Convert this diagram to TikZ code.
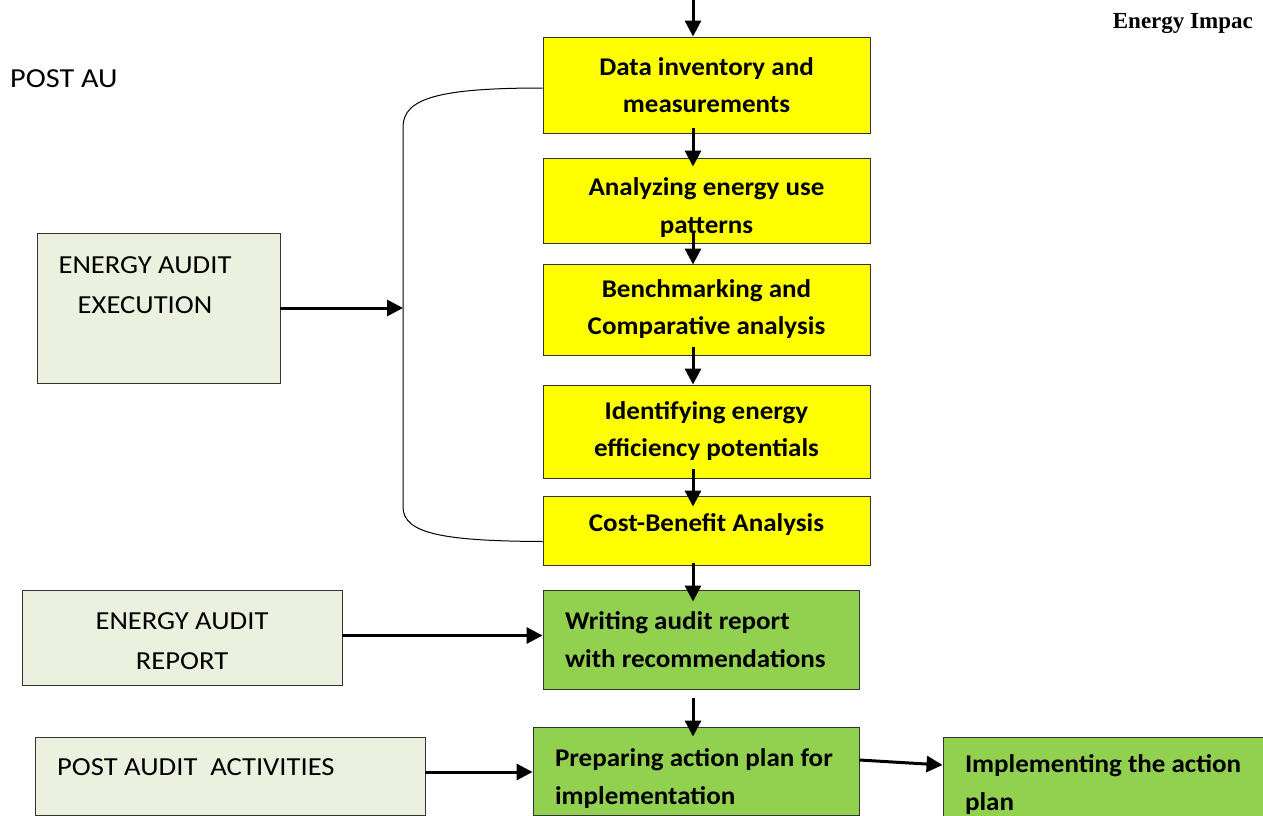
\documentclass[tikz,border=0pt]{standalone}
\usepackage{fontspec}
\setmainfont{Carlito}[FakeStretch=1.1]
\newfontfamily\stepfont{Carlito}[FakeStretch=1.06]
\newfontfamily\timesbold{Liberation Serif}[BoldFont=* Bold]
\usetikzlibrary{arrows.meta,calc}
\definecolor{stepyellow}{HTML}{FFFF00}
\definecolor{stepgreen}{HTML}{92D050}
\definecolor{phasefill}{HTML}{EBF1DE}
\tikzset{
  box/.style={draw=black!80, line width=0.9pt, inner sep=0pt, rectangle},
  ybox/.style={box, fill=stepyellow, align=center,
    font=\fontsize{25.5}{37}\stepfont\bfseries},
  gbox/.style={box, fill=stepgreen, align=flush left, inner xsep=22pt,
    font=\fontsize{25.5}{38}\stepfont\bfseries},
  phase/.style={box, fill=phasefill},
  phasetext/.style={inner sep=0pt, align=center, font=\fontsize{26}{40}\selectfont},
  arr/.style={line width=3pt, -{Triangle[length=16pt,width=16pt]}},
  brace/.style={line width=1pt, black}
}
\begin{document}
\begin{tikzpicture}[x=1pt,y=-1pt]
\useasboundingbox (0,0) rectangle (1263,816);

% header texts
\node[anchor=base west, inner sep=0pt, font=\fontsize{27.5}{30}\selectfont] (title) at (10,87) {POST AU};
\node[anchor=base east, inner sep=0pt, font=\fontsize{23}{26}\timesbold\bfseries] (running) at (1253,29) {Energy Impac};

% main sequence of audit steps
\node[ybox, minimum width=327pt, minimum height=96pt] (data)  at (706.5,85)   {Data inventory and\\measurements};
\node[ybox, minimum width=327pt, minimum height=85pt] (anal)  at (706.5,200.5) {\rule{0pt}{32pt}Analyzing energy use\\[1pt]patterns};
\node[ybox, minimum width=327pt, minimum height=91pt] (bench) at (706.5,309.5) {Benchmarking and\\Comparative analysis};
\node[ybox, minimum width=327pt, minimum height=93pt] (ident) at (706.5,431.5) {Identifying energy\\efficiency potentials};
\node[ybox, minimum width=327pt, minimum height=69pt, text depth=16pt] (cost) at (706.5,530.5) {Cost-Benefit Analysis};

\node[gbox, minimum width=316pt, minimum height=99pt, text width=272pt] (writing) at (701,639.5) {Writing audit report\\with recommendations};
\node[gbox, minimum width=326pt, minimum height=88pt, text width=282pt] (prep) at (696,771) {\rule{0pt}{32pt}Preparing action plan for\\implementation};
\node[gbox, minimum width=347pt, minimum height=96pt, text width=303pt] (impl) at (1116.5,785) {Implementing the action\\plan};

% phase boxes on the left
\node[phase, minimum width=243pt, minimum height=150pt] (exec) at (158.5,308) {};
\node[phasetext] (execT) at (145,285) {ENERGY AUDIT\\EXECUTION};
\node[phase, minimum width=320pt, minimum height=95pt] (report) at (182,637.5) {};
\node[phasetext] (reportT) at (182,641) {ENERGY AUDIT\\REPORT};
\node[phase, minimum width=390pt, minimum height=78pt] (post) at (230,776) {};
\node[phasetext, anchor=west] (postT) at (57,767) {POST AUDIT\ \ ACTIVITIES};

% bracket grouping the execution steps
\coordinate (brk) at (403,308);
\draw[brace] ($(data.west)+(0,3)$) .. controls (440,88) and (403,98) .. (403,127)
  -- (403,507) .. controls (403,534) and (445,541) .. ($(cost.west)+(0,11)$);

% flow arrows down the sequence
\draw[arr] ($(data.north)+(-13.5,-40)$) -- ($(data.north)+(-13.5,0)$);
\draw[arr] ($(data.south)+(-13.5,-5)$) -- ($(anal.north)+(-13.5,9)$);
\draw[arr] ($(anal.south)+(-13.5,-11)$) -- ($(bench.north)+(-13.5,1)$);
\draw[arr] ($(bench.south)+(-13.5,-8)$) -- ($(ident.north)+(-13.5,0)$);
\draw[arr] ($(ident.south)+(-13.5,-9)$) -- ($(cost.north)+(-13.5,11)$);
\draw[arr] ($(cost.south)+(-13.5,-2)$) -- ($(writing.north)+(-8,12)$);
\draw[arr] ($(writing.south)+(-8,9)$) -- ($(prep.north)+(-3,10)$);

% arrows from the phases into the steps
\draw[arr] (exec.east) -- (brk);
\draw[arr] ($(report.east)+(0,-2)$) -- ($(writing.west)+(0,-4)$);
\draw[arr] ($(post.east)+(0,-4)$) -- ($(prep.west)+(0,1)$);
\draw[arr] ($(prep.east)+(0,-11)$) -- ($(impl.west)+(0,-20)$);
\end{tikzpicture}
\end{document}
